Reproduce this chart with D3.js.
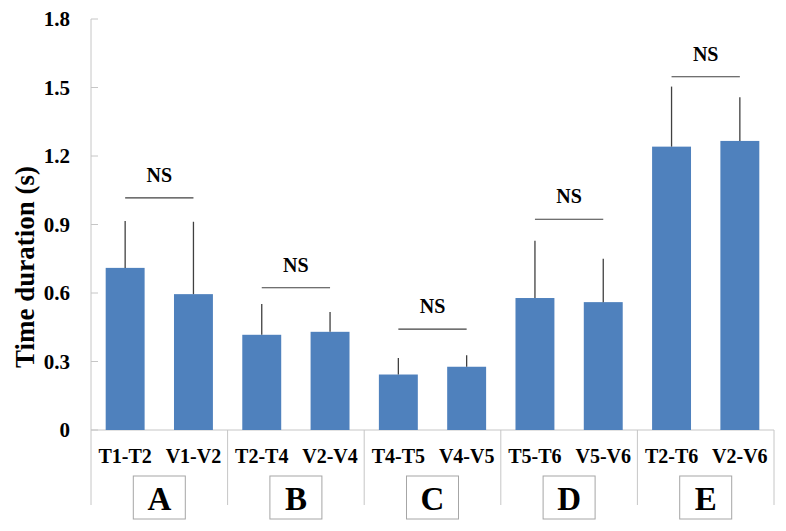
<!DOCTYPE html>
<html>
<head>
<meta charset="utf-8">
<script src="https://cdn.jsdelivr.net/npm/d3@7"></script>
<style>
  body { margin: 0; background: #fff; }
  svg { display: block; }
  svg text { font-family: "Liberation Serif", "Times New Roman", "DejaVu Serif", serif; font-weight: bold; }
</style>
</head>
<body>
<div id="chart"></div>
<script>
// chart data
var groups = ["A", "B", "C", "D", "E"];
var pairLabels = [["T1-T2", "V1-V2"], ["T2-T4", "V2-V4"], ["T4-T5", "V4-V5"], ["T5-T6", "V5-V6"], ["T2-T6", "V2-V6"]];
var means = [0.71, 0.595, 0.417, 0.43, 0.243, 0.277, 0.578, 0.56, 1.241, 1.266];
var errTops = [0.915, 0.912, 0.552, 0.517, 0.315, 0.327, 0.829, 0.75, 1.504, 1.457];
var sigLevels = [1.017, 0.623, 0.442, 0.923, 1.547];
var sigText = "NS";
var yTicks = [0, 0.3, 0.6, 0.9, 1.2, 1.5, 1.8];

var W = 786, H = 531;
var plotLeft = 91, plotRight = 774, plotTop = 19, base = 430, bottomLine = 505;

var svg = d3.select("#chart").append("svg")
    .attr("width", W)
    .attr("height", H);

var labels = [];
pairLabels.forEach(function (p) { labels.push(p[0], p[1]); });

var x = d3.scaleBand()
    .domain(labels)
    .range([plotLeft, plotRight])
    .paddingInner(0.43)
    .paddingOuter(0.215);

var y = d3.scaleLinear()
    .domain([0, 1.8])
    .range([base, plotTop]);

var axisColor = "#c6c6c6";

// y axis line (runs down into the category area)
svg.append("line")
    .attr("x1", plotLeft).attr("x2", plotLeft)
    .attr("y1", plotTop).attr("y2", bottomLine)
    .style("stroke", axisColor);

// y ticks (inside) and labels
var yAxis = svg.append("g");
yAxis.selectAll(".tick")
    .data(yTicks)
    .enter()
    .append("line")
    .attr("x1", plotLeft).attr("x2", plotLeft + 7)
    .attr("y1", function (d) { return y(d); })
    .attr("y2", function (d) { return y(d); })
    .style("stroke", axisColor);
yAxis.selectAll("text")
    .data(yTicks)
    .enter()
    .append("text")
    .attr("x", 70)
    .attr("y", function (d) { return y(d); })
    .attr("dy", "0.35em")
    .style("text-anchor", "end")
    .style("font-size", "21px")
    .text(function (d) { return d === 0 ? "0" : d.toFixed(1); });

// Y axis title
svg.append("text")
    .attr("transform", "translate(34,267) rotate(-90)")
    .style("text-anchor", "middle")
    .style("font-size", "27px")
    .text("Time duration (s)");

// x axis baseline
svg.append("line")
    .attr("x1", plotLeft).attr("x2", plotRight)
    .attr("y1", base).attr("y2", base)
    .style("stroke", axisColor);

// group dividers
var groupWidth = (plotRight - plotLeft) / groups.length;
var dividers = d3.range(groups.length + 1).map(function (i) { return plotLeft + i * groupWidth; });
svg.selectAll(".divider")
    .data(dividers.slice(1))
    .enter()
    .append("line")
    .attr("x1", function (d) { return d; })
    .attr("x2", function (d) { return d; })
    .attr("y1", base).attr("y2", bottomLine)
    .style("stroke", axisColor);

// bars
svg.selectAll(".bar")
    .data(means)
    .enter()
    .append("rect")
    .attr("x", function (d, i) { return x(labels[i]); })
    .attr("y", function (d) { return y(d); })
    .attr("width", x.bandwidth())
    .attr("height", function (d) { return base - y(d); })
    .style("fill", "#4f81bd");

// error bars (upper only)
svg.selectAll(".err")
    .data(errTops)
    .enter()
    .append("line")
    .attr("x1", function (d, i) { return x(labels[i]) + x.bandwidth() / 2; })
    .attr("x2", function (d, i) { return x(labels[i]) + x.bandwidth() / 2; })
    .attr("y1", function (d, i) { return y(means[i]); })
    .attr("y2", function (d) { return y(d); })
    .style("stroke", "#404040")
    .style("stroke-width", 1.3);

// category labels
svg.selectAll(".cat")
    .data(labels)
    .enter()
    .append("text")
    .attr("x", function (d) { return x(d) + x.bandwidth() / 2; })
    .attr("y", 463)
    .style("text-anchor", "middle")
    .style("font-size", "20px")
    .text(function (d) { return d; });

// significance lines and NS labels
var sig = svg.selectAll(".sig")
    .data(groups)
    .enter()
    .append("g");
sig.append("line")
    .attr("x1", function (d, i) { return x(labels[2 * i]) + x.bandwidth() / 2; })
    .attr("x2", function (d, i) { return x(labels[2 * i + 1]) + x.bandwidth() / 2; })
    .attr("y1", function (d, i) { return y(sigLevels[i]); })
    .attr("y2", function (d, i) { return y(sigLevels[i]); })
    .style("stroke", "#404040")
    .style("stroke-width", 1.2);
sig.append("text")
    .attr("x", function (d, i) { return plotLeft + (i + 0.5) * groupWidth; })
    .attr("y", function (d, i) { return y(sigLevels[i]) - 16; })
    .style("text-anchor", "middle")
    .style("font-size", "20px")
    .text(sigText);

// group letter boxes
var box = svg.selectAll(".box")
    .data(groups)
    .enter()
    .append("g");
box.append("rect")
    .attr("x", function (d, i) { return plotLeft + (i + 0.5) * groupWidth - 26; })
    .attr("y", 476)
    .attr("width", 52)
    .attr("height", 43)
    .style("fill", "#fff")
    .style("stroke", "#a6a6a6");
box.append("text")
    .attr("x", function (d, i) { return plotLeft + (i + 0.5) * groupWidth; })
    .attr("y", 510)
    .style("text-anchor", "middle")
    .style("font-size", "33px")
    .text(function (d) { return d; });
</script>
</body>
</html>
